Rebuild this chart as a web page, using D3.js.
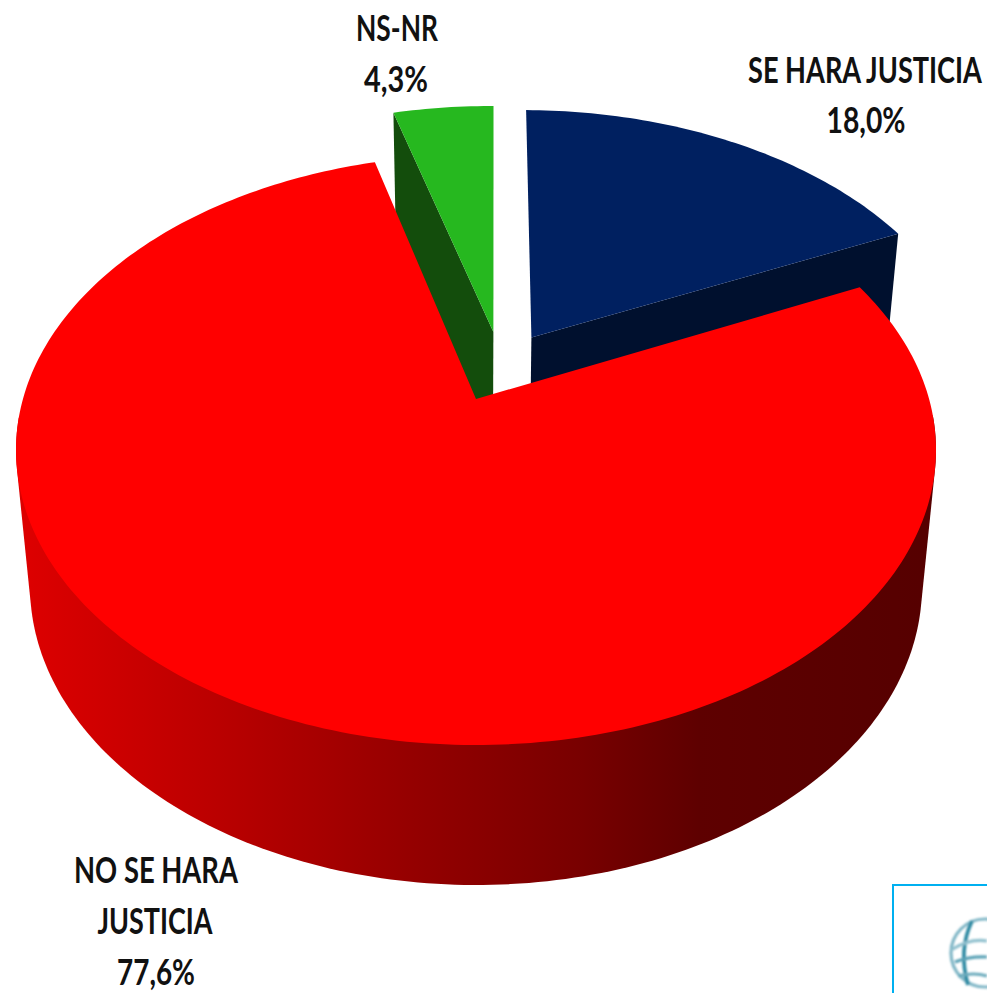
<!DOCTYPE html>
<html>
<head>
<meta charset="utf-8">
<script src="https://cdn.jsdelivr.net/npm/d3@7/dist/d3.min.js"></script>
<style>
  html, body { margin: 0; padding: 0; background: #fff; }
  svg { display: block; }
  text { font-family: Lato, "Open Sans", sans-serif; font-weight: 700; fill: #111; text-anchor: middle; }
</style>
</head>
<body>
<svg id="chart" width="987" height="993"></svg>
<script>
// values, clockwise from 12 o'clock
const categories = ['SE HARA JUSTICIA', 'NO SE HARA JUSTICIA', 'NS-NR'];
const shares = [18.0, 77.6, 4.3];
const shareLabels = ['18,0%', '77,6%', '4,3%'];

const svg = d3.select('#chart');
const defs = svg.append('defs');

// scales from the unit disc to pixels, one for the top face and one for the bottom
const xTop = d3.scaleLinear().domain([-1, 1]).range([16, 936]);
const yTop = d3.scaleLinear().domain([-1, 1]).range([155, 745]);
const xBottom = d3.scaleLinear().domain([-1, 1]).range([30, 922]);
const yBottom = d3.scaleLinear().domain([-1, 1]).range([287, 885]);

// perspective: the pie centre sits above the centre of the ellipse
const tilt = 0.173;
function project(u, v) {
    const w = 1 - tilt * v;
    return [u * Math.sqrt(1 - tilt * tilt) / w, (v - tilt) / w];
}
const toTop = (p) => { const q = project(p[0], p[1]); return [xTop(q[0]), yTop(q[1])]; };
const toBottom = (p) => { const q = project(p[0], p[1]); return [xBottom(q[0]), yBottom(q[1])]; };

const turn = 0.007; // the pie is rotated a hair clockwise
const arcs = d3.pie().sort(null).value((d) => d).startAngle(turn).endAngle(2 * Math.PI + turn)(shares);

// how far each slice is pulled out of the pie, in disc units
const pulled = [[0.127, -0.223], [0, 0], [0.04, -0.244]];
const topColors = ['#002060', '#ff0000', '#26b81f'];
const sideColors = ['#00102e', '#a00000', '#134d0c'];

function rim(d, i) {
    const step = Math.PI / 180;
    const angles = d3.range(d.startAngle, d.endAngle, step).concat([d.endAngle]);
    return angles.map((a) => [Math.sin(a) + pulled[i][0], -Math.cos(a) + pulled[i][1]]);
}

const line = d3.line();

/* wall shading of the red slice */
const wallStops = [
    [0, '#dc0000'], [0.2, '#bc0000'], [0.42, '#960000'], [0.62, '#780000'], [0.75, '#5e0000'], [1, '#560000']
];
const grad = defs.append('linearGradient')
    .attr('id', 'wall')
    .attr('gradientUnits', 'userSpaceOnUse')
    .attr('x1', 30).attr('x2', 922).attr('y1', 0).attr('y2', 0);
wallStops.forEach((s) => grad.append('stop').attr('offset', s[0]).attr('stop-color', s[1]));

/* the two pulled slices go first, the big one covers them */
[0, 2].forEach((i) => {
    const d = arcs[i];
    const points = rim(d, i);
    const apex = pulled[i];
    const g = svg.append('g').attr('class', 'slice');
    // the cut face that looks at the viewer
    const edge = i === 0 ? points[points.length - 1] : points[0];
    g.append('path')
        .attr('d', line([toTop(apex), toTop(edge), toBottom(edge), toBottom(apex)]) + 'Z')
        .attr('fill', sideColors[i]);
    g.append('path')
        .attr('d', line([apex].concat(points).map(toTop)) + 'Z')
        .attr('fill', topColors[i]);
});

/* big slice: hull of the front rim top and bottom makes the wall, then the top face */
const redRim = rim(arcs[1], 1);
const front = redRim.filter((p) => p[1] > 0.05); // chord stays under the pie centre
const redGroup = svg.append('g').attr('class', 'slice');
redGroup.append('path')
    .attr('d', line(d3.polygonHull(front.map(toTop).concat(front.map(toBottom)))) + 'Z')
    .attr('fill', 'url(#wall)');
redGroup.append('path')
    .attr('d', line([pulled[1]].concat(redRim).map(toTop)) + 'Z')
    .attr('fill', topColors[1]);

/* labels, squeezed sideways to the width they have in the picture */
const labelLines = [
    [{ text: categories[0], x: 865, y: 83, w: 234 }, { text: shareLabels[0], x: 866, y: 133, w: 79 }],
    [{ text: 'NO SE HARA', x: 156, y: 883, w: 164 }, { text: 'JUSTICIA', x: 155, y: 934, w: 115 }, { text: shareLabels[1], x: 156, y: 985, w: 78 }],
    [{ text: categories[2], x: 397, y: 41, w: 82 }, { text: shareLabels[2], x: 396, y: 92, w: 64 }]
];
labelLines.flat().forEach((l) => {
    const t = svg.append('text')
        .attr('font-size', 36)
        .text(l.text);
    const sx = l.w / t.node().getComputedTextLength();
    t.attr('transform', `translate(${l.x},${l.y}) scale(${sx},1)`);
});

/* logo box in the corner, cut off by the page */
svg.append('path')
    .attr('d', 'M893,993V885H987')
    .attr('fill', 'none')
    .attr('stroke', '#00b0f0')
    .attr('stroke-width', 2);
defs.append('filter').attr('id', 'soft').append('feGaussianBlur').attr('stdDeviation', 1.2);
const globe = svg.append('g')
    .attr('fill', 'none')
    .attr('stroke', '#4a97ad')
    .attr('stroke-width', 3.2)
    .attr('filter', 'url(#soft)');
globe.append('circle').attr('cx', 985).attr('cy', 953).attr('r', 34).attr('stroke', '#7fb6c6');
globe.append('path').attr('d', 'M972,921Q958,950 968,985').attr('stroke', '#2f8aa3').attr('stroke-width', 3.8);
globe.append('path').attr('d', 'M951,950Q970,938 987,941').attr('stroke', '#8fc0ce');
globe.append('path').attr('d', 'M955,962Q970,956 987,957').attr('stroke', '#5aa2b6');
globe.append('path').attr('d', 'M958,976Q974,972 987,976').attr('stroke', '#6aaabc');
</script>
</body>
</html>
